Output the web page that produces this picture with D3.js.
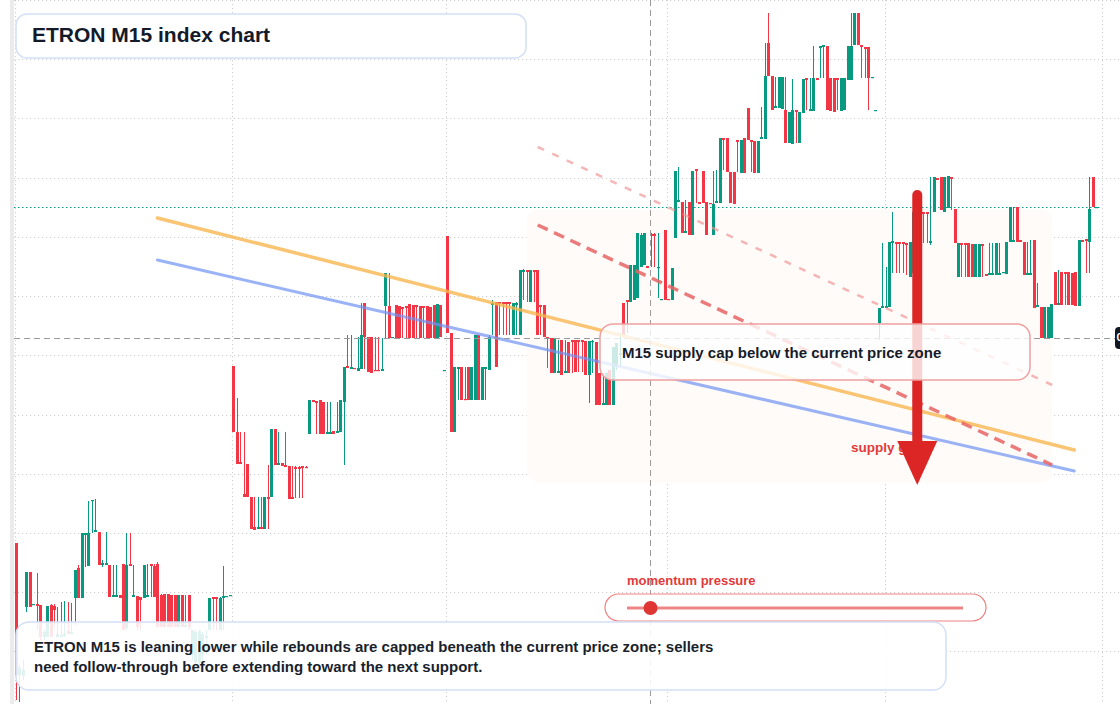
<!DOCTYPE html>
<html><head><meta charset="utf-8">
<script src="https://cdn.jsdelivr.net/npm/d3@7"></script>
<style>
html,body{margin:0;padding:0;background:#fff;overflow:hidden}
svg{display:block}
text{font-family:"Liberation Sans",Arial,Helvetica,sans-serif;font-weight:bold}
</style>
</head><body>
<svg id="chart" width="1120" height="704"></svg>
<script>
// ---- data: OHLC per 15-minute bar, [open, high, low, close] in index points ----
const candles = [
[457,457,300,325],[325,335,298,332],[324,340,320,330],[393,428,388,428],[428,428,393,393],[395,396,395,396],[396,427,370,394],[395,395,360,363],[363,370,360,368],[363,394,363,394],
[395,396,363,363],[394,396,374,390],[363,393,363,366],[363,398,363,365],[364,399,363,366],[369,398,366,366],[366,397,366,368],[402,430,375,430],[432,435,402,402],[402,467,402,467],
[465,467,433,467],[434,499,434,467],[499,500,467,500],[468,501,468,470],[468,468,435,435],[435,440,433,437],[435,468,435,437],[435,435,403,403],[403,435,403,405],[403,435,403,405],
[405,405,402,402],[436,436,370,370],[372,467,370,435],[436,467,434,434],[403,435,403,405],[404,404,370,373],[403,403,370,400],[402,435,402,435],[403,436,403,405],[436,436,403,434],
[434,436,403,403],[436,438,373,373],[405,406,373,373],[406,406,373,373],[406,406,373,373],[405,405,373,373],[405,405,373,373],[373,405,373,405],[405,405,373,373],[373,405,373,375],
[405,405,370,373],[345,370,340,370],[338,370,333,368],[337,370,335,369],[345,368,340,366],[362,370,345,364],[370,402,370,402],[403,403,370,401],[403,403,370,401],[370,403,370,402],
[402,434,370,404],[403,404,403,404],[404,405,404,405],[634,634,568,568],[568,602,536,536],[538,568,536,536],[506,568,503,503],[536,536,503,503],[503,503,471,471],[473,503,470,470],
[471,503,471,473],[473,503,471,471],[471,503,471,503],[503,535,471,501],[503,571,503,571],[571,571,535,535],[535,568,535,537],[537,537,534,534],[535,568,533,533],[534,534,501,501],
[503,534,501,501],[533,534,502,531],[533,534,502,531],[534,534,502,532],[533,534,532,532],[566,600,566,600],[600,600,598,598],[599,599,566,597],[600,600,566,566],[598,598,566,566],
[566,598,566,568],[566,598,566,568],[569,569,566,566],[567,598,567,569],[568,600,568,600],[598,633,535,633],[634,665,632,632],[631,665,631,633],[632,632,631,631],[629,663,629,632],
[631,697,631,665],[697,697,631,663],[663,663,628,628],[663,663,627,627],[630,663,629,629],[630,663,629,629],[629,662,629,631],[694,727,662,727],[694,727,662,662],[662,663,662,663],
[695,695,662,662],[694,694,662,662],[693,693,662,691],[694,694,662,692],[696,696,662,662],[695,695,662,662],[695,695,662,693],[694,694,662,662],[694,694,662,692],[694,694,662,662],
[693,693,662,662],[695,695,662,662],[662,696,662,696],[695,695,663,663],[629,630,629,630],[764,764,667,667],[667,667,568,568],[568,633,568,633],[631,633,600,633],[633,633,600,600],
[601,633,600,600],[633,633,600,600],[600,633,600,633],[600,665,600,665],[665,665,600,600],[600,633,600,633],[631,633,600,633],[630,665,630,663],[695,700,665,697],[698,698,633,633],
[698,698,665,696],[698,698,665,696],[698,698,665,696],[698,698,665,696],[665,697,665,697],[695,698,665,697],[665,730,665,730],[728,731,700,730],[730,730,698,728],[698,730,698,730],
[730,730,698,728],[730,730,665,665],[695,695,665,693],[695,695,663,663],[663,663,632,661],[662,662,627,627],[627,662,627,662],[627,660,627,629],[660,660,625,625],[627,660,627,629],
[658,658,627,627],[660,660,627,658],[660,660,628,628],[660,660,628,658],[660,660,628,658],[659,659,625,625],[625,659,597,659],[658,660,627,659],[658,658,595,595],[627,627,595,595],
[595,627,595,597],[595,627,595,627],[630,630,595,595],[595,653,595,653],[633,657,630,657],[645,667,633,647],[697,697,665,665],[700,700,667,698],[698,735,698,735],[700,735,700,735],
[702,767,702,767],[733,767,733,765],[735,767,735,767],[734,734,732,732],[766,767,733,764],[766,767,733,764],[732,767,702,733],[700,701,700,701],[770,770,700,700],[701,701,700,700],
[700,732,700,732],[762,829,762,829],[798,833,798,800],[798,798,767,767],[767,800,767,769],[798,798,765,765],[765,829,765,829],[831,831,797,829],[798,798,796,796],[829,829,797,797],
[798,798,765,765],[797,797,796,796],[765,829,765,796],[797,830,797,799],[797,862,797,862],[862,862,830,860],[862,862,828,828],[828,828,797,797],[828,828,796,796],[860,860,828,858],
[827,860,827,860],[862,862,827,827],[892,892,860,860],[860,860,828,858],[859,859,827,827],[827,859,827,859],[861,893,861,863],[861,957,861,924],[957,987,924,924],[924,924,890,890],
[892,923,892,894],[892,923,892,923],[891,923,891,923],[890,923,857,857],[857,888,857,888],[856,921,856,890],[890,890,857,888],[857,888,857,888],[887,921,887,921],[922,922,890,920],
[889,922,889,891],[889,954,889,922],[922,922,920,920],[952,954,922,954],[953,955,922,955],[954,954,890,890],[922,922,889,889],[922,922,888,888],[922,922,890,920],[889,922,889,922],
[890,922,890,922],[920,954,920,954],[920,987,920,954],[955,987,955,987],[987,987,955,955],[955,955,922,953],[953,953,922,951],[953,953,890,922],[922,923,922,923],[889,890,889,890],
[677,692,660,692],[692,757,692,694],[692,733,692,694],[693,758,693,758],[757,788,727,759],[758,758,727,756],[758,758,727,756],[758,758,727,756],[757,757,725,755],[723,758,723,758],
[727,790,727,788],[788,790,757,757],[788,788,757,786],[788,788,757,786],[788,788,757,786],[757,823,755,759],[788,823,788,823],[822,822,820,820],[823,823,790,790],[788,823,788,823],
[792,824,792,824],[823,823,790,821],[791,791,757,757],[723,757,723,757],[757,757,723,755],[757,757,723,755],[757,757,723,723],[756,756,723,723],[723,756,723,756],[723,756,723,756],
[756,756,723,754],[726,726,724,724],[725,757,725,727],[725,757,725,727],[725,757,725,757],[725,757,725,727],[727,728,727,728],[726,758,726,758],[758,793,758,793],[758,793,758,760],
[793,793,758,758],[760,760,758,758],[758,758,725,725],[725,758,725,727],[725,760,725,727],[760,760,692,692],[693,717,693,695],[693,693,662,662],[662,693,662,693],[662,693,662,693],
[662,696,662,696],[728,728,695,695],[695,730,695,697],[728,728,695,695],[728,728,695,726],[728,728,695,695],[727,727,695,695],[728,728,694,694],[694,760,694,760],[760,760,758,758],
[761,761,727,759],[758,823,727,791],[823,823,793,793],[792,793,792,793]
];
const priceTicks = [1000, 941, 882, 822, 763, 704, 645, 585, 526, 467, 408, 349];
const barTicks = [0, 63, 125, 189, 252, 315];
const lastClose = 793;
const crosshairBar = 184;
const crosshairPrice = 662;
const crosshairLabel = "0";
// drawings: [bar, price] anchors
const resistanceLine = [[41, 782], [306.7, 550]];
const supportLine = [[41, 740], [306.7, 529]];
const capLine = [[151.2, 775], [300.3, 535]];
const capLineUpper = [[151.2, 853], [300.3, 615]];
const supplyZone = {bars: [148, 300.3], prices: [791, 518]};
const downArrow = {bar: 261.2, from: 805, to: 515};
const momentumValue = 0.07;

const titleText = "ETRON M15 index chart";
const calloutText = "M15 supply cap below the current price zone";
const zoneLabel = "supply gate";
const momentumLabel = "momentum pressure";
const noteLines = [
  "ETRON M15 is leaning lower while rebounds are capped beneath the current price zone; sellers",
  "need follow-through before extending toward the next support."
];

// ---- scales ----
const W = 1120, H = 704;
const xS = d3.scaleLinear().domain([0, candles.length - 1]).range([16, 1096]);
const yS = d3.scaleLinear().domain([296, 1000]).range([H, 0]);
const UP = "#089981", DOWN = "#f23645";

const svg = d3.select("#chart");
svg.append("rect").attr("width", W).attr("height", H).attr("fill", "#fff");
svg.append("rect").attr("x", 10).attr("y", 0).attr("width", 4).attr("height", H).attr("fill", "#ebebeb");

// grid
const grid = svg.append("g").attr("stroke", "#cfcfcf").attr("stroke-width", 1).attr("stroke-dasharray", "1.2 2.8");
grid.selectAll("line.h").data(priceTicks).join("line")
  .attr("x1", 14).attr("x2", W)
  .attr("y1", d => Math.round(yS(d)) + 0.5).attr("y2", d => Math.round(yS(d)) + 0.5);
grid.selectAll("line.v").data(barTicks).join("line")
  .attr("y1", 0).attr("y2", H)
  .attr("x1", d => Math.round(xS(d)) - 0.5).attr("x2", d => Math.round(xS(d)) - 0.5);

// supply zone
svg.append("rect")
  .attr("x", xS(supplyZone.bars[0])).attr("y", yS(supplyZone.prices[0]))
  .attr("width", xS(supplyZone.bars[1]) - xS(supplyZone.bars[0]))
  .attr("height", yS(supplyZone.prices[1]) - yS(supplyZone.prices[0]))
  .attr("rx", 12).attr("fill", "#fefbf9");

// last price line
svg.append("line").attr("x1", 14).attr("x2", 1102)
  .attr("y1", Math.round(yS(lastClose)) + 0.5).attr("y2", Math.round(yS(lastClose)) + 0.5)
  .attr("stroke", UP).attr("stroke-width", 1.2).attr("stroke-dasharray", "1.5 2.5");

// candles
const cg = svg.append("g");
candles.forEach((d, i) => {
  const [o, h, l, c] = d;
  const col = c >= o ? UP : DOWN;
  const cx = Math.round(xS(i));
  cg.append("line").attr("x1", cx + 0.5).attr("x2", cx + 0.5)
    .attr("y1", yS(h)).attr("y2", yS(l)).attr("stroke", col).attr("stroke-width", 1);
  const top = yS(Math.max(o, c)), bot = yS(Math.min(o, c));
  cg.append("rect").attr("x", cx - 1).attr("width", 3)
    .attr("y", top).attr("height", Math.max(1.2, bot - top)).attr("fill", col);
});

// trend lines
const lineGen = d3.line().x(d => xS(d[0])).y(d => yS(d[1]));
svg.append("path").attr("d", lineGen(resistanceLine)).attr("fill", "none")
  .attr("stroke", "#f9b54c").attr("stroke-opacity", 0.78).attr("stroke-width", 3.5).attr("stroke-linecap", "round");
svg.append("path").attr("d", lineGen(supportLine)).attr("fill", "none")
  .attr("stroke", "#6f93f2").attr("stroke-opacity", 0.7).attr("stroke-width", 3).attr("stroke-linecap", "round");
svg.append("path").attr("d", lineGen(capLineUpper)).attr("fill", "none")
  .attr("stroke", "#ef8f8f").attr("stroke-opacity", 0.65).attr("stroke-width", 2.5).attr("stroke-dasharray", "7 9");
svg.append("path").attr("d", lineGen(capLine)).attr("fill", "none")
  .attr("stroke", "#e86464").attr("stroke-opacity", 0.85).attr("stroke-width", 3.5).attr("stroke-dasharray", "11 7");

// crosshair
const ch = svg.append("g").attr("stroke", "#9a9a9a").attr("stroke-width", 1).attr("stroke-dasharray", "6 4");
ch.append("line").attr("x1", Math.round(xS(crosshairBar)) - 0.5).attr("x2", Math.round(xS(crosshairBar)) - 0.5).attr("y1", 0).attr("y2", H);
ch.append("line").attr("x1", 14).attr("x2", W).attr("y1", Math.round(yS(crosshairPrice)) + 0.5).attr("y2", Math.round(yS(crosshairPrice)) + 0.5);

// zone label and arrow
svg.append("text").attr("x", 851).attr("y", 448).attr("dominant-baseline", "middle")
  .attr("font-size", 13.5).attr("fill", "#e23a3a").text(zoneLabel);
const ax = xS(downArrow.bar), ay0 = yS(downArrow.from), ay1 = yS(downArrow.to);
svg.append("line").attr("x1", ax).attr("x2", ax).attr("y1", ay0).attr("y2", ay1 - 40)
  .attr("stroke", "#dc2626").attr("stroke-width", 10).attr("stroke-linecap", "round");
svg.append("path").attr("d", `M${ax - 20},${ay1 - 44} L${ax + 20},${ay1 - 44} L${ax},${ay1} Z`).attr("fill", "#dc2626");

// callout
svg.append("rect").attr("x", 600).attr("y", 324).attr("width", 430).attr("height", 56).attr("rx", 13)
  .attr("fill", "#fff").attr("fill-opacity", 0.8).attr("stroke", "#f0a0a0").attr("stroke-width", 1.5);
svg.append("text").attr("x", 622).attr("y", 354).attr("dominant-baseline", "middle")
  .attr("font-size", 15).attr("fill", "#161b29").text(calloutText);

// momentum gauge
const mS = d3.scaleLinear().domain([0, 1]).range([627, 963]);
svg.append("text").attr("x", 627).attr("y", 582).attr("dominant-baseline", "middle")
  .attr("font-size", 13).attr("fill", "#e23a3a").text(momentumLabel);
svg.append("rect").attr("x", 605).attr("y", 594).attr("width", 381).attr("height", 27).attr("rx", 13.5)
  .attr("fill", "#fff").attr("fill-opacity", 0.9).attr("stroke", "#ef8080").attr("stroke-width", 1.2);
svg.append("line").attr("x1", mS(0)).attr("x2", mS(1)).attr("y1", 608).attr("y2", 608)
  .attr("stroke", "#ee8585").attr("stroke-width", 3);
svg.append("circle").attr("cx", mS(momentumValue)).attr("cy", 608).attr("r", 7).attr("fill", "#e03535");

// note box
svg.append("rect").attr("x", 16).attr("y", 622).attr("width", 930).attr("height", 68).attr("rx", 13)
  .attr("fill", "#fff").attr("fill-opacity", 0.88).attr("stroke", "#d4e0f6").attr("stroke-width", 1.5);
svg.selectAll("text.note").data(noteLines).join("text").attr("class", "note")
  .attr("x", 34).attr("y", (d, i) => 648 + i * 20).attr("dominant-baseline", "middle")
  .attr("font-size", 15).attr("fill", "#1a1f2c").text(d => d);

// title
svg.append("rect").attr("x", 16).attr("y", 14).attr("width", 510).attr("height", 44).attr("rx", 11)
  .attr("fill", "#fff").attr("stroke", "#d4e0f6").attr("stroke-width", 1.5);
svg.append("text").attr("x", 32).attr("y", 36).attr("dominant-baseline", "middle")
  .attr("font-size", 21).attr("fill", "#141a28").text(titleText);

// crosshair price label (mostly beyond the right edge, as in the reference)
const yl = yS(crosshairPrice);
svg.append("rect").attr("x", 1115).attr("y", yl - 11).attr("width", 50).attr("height", 22).attr("rx", 4).attr("fill", "#131722");
svg.append("text").attr("x", 1116.5).attr("y", yl).attr("dominant-baseline", "middle")
  .attr("font-size", 11).attr("font-weight", "normal").attr("fill", "#fff").text(crosshairLabel);
</script>
</body></html>
